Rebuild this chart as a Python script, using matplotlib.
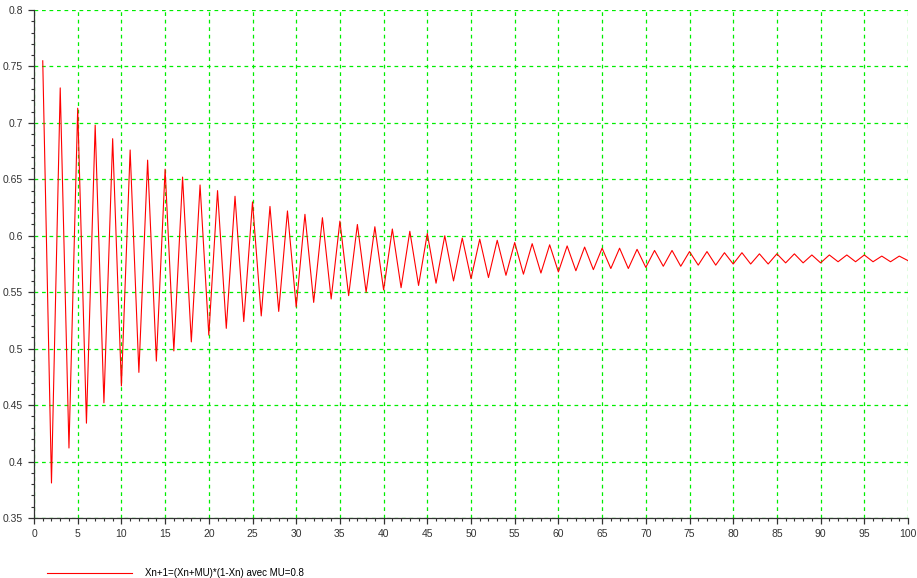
import matplotlib
matplotlib.use("Agg")
import matplotlib.pyplot as plt
from matplotlib.ticker import MultipleLocator
import numpy as np

# iterations n = 1..100 (odd n = peaks, even n = troughs)
n = np.arange(1, 101)
xn = [
    0.755, 0.381, 0.731, 0.412, 0.713, 0.434, 0.698, 0.452, 0.686, 0.467,
    0.676, 0.479, 0.667, 0.489, 0.659, 0.498, 0.652, 0.506, 0.645, 0.512,
    0.640, 0.518, 0.635, 0.524, 0.630, 0.529, 0.626, 0.533, 0.622, 0.537,
    0.619, 0.541, 0.616, 0.544, 0.613, 0.547, 0.610, 0.550, 0.608, 0.552,
    0.606, 0.554, 0.604, 0.556, 0.602, 0.558, 0.600, 0.560, 0.598, 0.562,
    0.597, 0.563, 0.596, 0.565, 0.594, 0.566, 0.593, 0.567, 0.592, 0.568,
    0.591, 0.569, 0.590, 0.570, 0.589, 0.571, 0.589, 0.571, 0.588, 0.572,
    0.587, 0.573, 0.587, 0.573, 0.586, 0.574, 0.586, 0.574, 0.585, 0.575,
    0.585, 0.575, 0.584, 0.575, 0.584, 0.576, 0.584, 0.576, 0.583, 0.576,
    0.583, 0.577, 0.583, 0.577, 0.583, 0.577, 0.582, 0.577, 0.582, 0.578,
]
label = "Xn+1=(Xn+MU)*(1-Xn) avec MU=0.8"

plt.rcParams["font.family"] = ["Liberation Sans", "DejaVu Sans"]

fig = plt.figure(figsize=(9.17, 5.78), dpi=100)
ax = fig.add_axes([34 / 917, 1 - 518 / 578, (908 - 34) / 917, (518 - 10) / 578])

line, = ax.plot(n, xn, color="#ff0000", lw=0.8, label=label)

ax.set_xlim(0, 100)
ax.set_ylim(0.35, 0.8)
ax.xaxis.set_major_locator(MultipleLocator(5))
ax.xaxis.set_minor_locator(MultipleLocator(1))
ax.yaxis.set_major_locator(MultipleLocator(0.05))
ax.yaxis.set_minor_locator(MultipleLocator(0.01))
ax.yaxis.set_major_formatter(plt.FuncFormatter(lambda v, p: f"{v:g}"))

ax.grid(True, which="major", color="#00ee00", ls=(0, (3, 3)), lw=0.9)
for s in ("top", "right"):
    ax.spines[s].set_visible(False)
for s in ("left", "bottom"):
    ax.spines[s].set_color("#333333")
    ax.spines[s].set_linewidth(0.9)
ax.tick_params(which="major", length=4, width=0.9, color="#333333",
               labelsize=7.5, labelcolor="#333333", pad=4)
ax.tick_params(which="minor", length=2.5, width=0.8, color="#333333")

fig.legend(handles=[line], loc="center left", bbox_to_anchor=(38 / 917, 1 - 573 / 578),
           frameon=False, fontsize=7, handlelength=8.8, handletextpad=1.3)

fig.savefig("out.png", dpi=100)
